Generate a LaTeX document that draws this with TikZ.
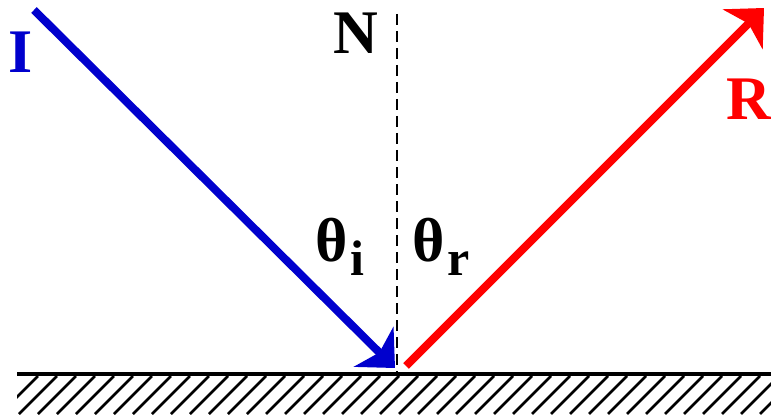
\documentclass[tikz,border=0pt]{standalone}
\usepackage{fontspec}
\setmainfont{Liberation Serif}
\usetikzlibrary{arrows.meta}
\definecolor{iblue}{RGB}{0,0,205}
\definecolor{rred}{RGB}{255,0,0}
\newcommand{\mysub}[1]{\kern3pt\raisebox{-14pt}{\fontsize{50}{52}\selectfont #1}}
\begin{document}
\begin{tikzpicture}[x=1pt,y=-1pt,
  lbl/.style={font=\bfseries\fontsize{62}{64}\selectfont, inner sep=0pt},
  ray/.style={line width=8pt, -{Stealth[length=30pt,width=56pt,inset=8pt]}},
  hatchline/.style={line width=2.5pt}]
\useasboundingbox (0,0) rectangle (771,417);
% surface
\coordinate (sl) at (17,374);
\coordinate (sr) at (771,374);
\begin{scope}
\clip (17,376) rectangle (771,414);
\foreach \x in {0,19,...,800} {
  \draw[hatchline] (\x,414) -- ++(38,-38);
}
\end{scope}
\draw[line width=4pt] (sl) -- (sr);
% normal
\coordinate (ntop) at (397,14);
\coordinate (nbot) at (397,372);
\draw[line width=2.8pt, dash pattern=on 11pt off 6pt] (ntop) -- (nbot);
% incident
\coordinate (istart) at (34,10);
\coordinate (iend) at (395,368);
\draw[ray, draw=iblue, fill=iblue] (istart) -- (iend);
% reflected
\coordinate (rstart) at (406,366);
\coordinate (rend) at (764,8);
\draw[ray, draw=rred, fill=rred] (rstart) -- (rend);
% labels
\node[lbl, text=iblue] (I) at (21,52) {I};
\node[lbl] (N) at (356,33) {N};
\node[lbl, text=rred] (R) at (749,99) {R};
\node[lbl, anchor=base west] (ti) at (315,261) {θ\mysub{i}};
\node[lbl, anchor=base west] (tr) at (412,261) {θ\mysub{r}};
\end{tikzpicture}
\end{document}
